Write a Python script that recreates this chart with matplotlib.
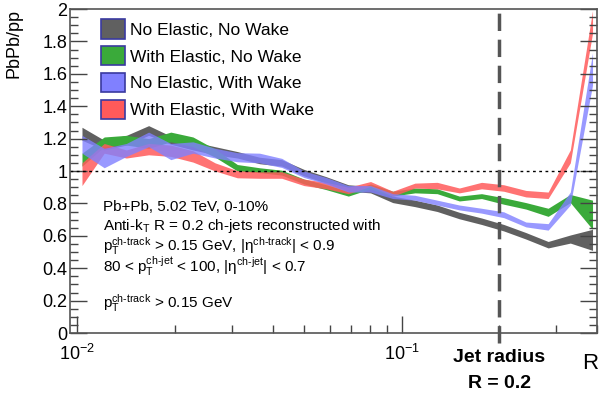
import numpy as np
import matplotlib.pyplot as plt
from matplotlib.patches import Patch

plt.rcParams['font.family'] = ['Liberation Sans', 'DejaVu Sans']
plt.rcParams['mathtext.fontset'] = 'custom'
plt.rcParams['mathtext.rm'] = 'Liberation Sans'
plt.rcParams['mathtext.it'] = 'Liberation Sans:italic'
plt.rcParams['mathtext.bf'] = 'Liberation Sans:bold'

# bin centres in R_L
x = [0.01035, 0.01212, 0.01418, 0.01661, 0.01944, 0.02275, 0.02663, 0.03117,
     0.03649, 0.04272, 0.0500, 0.05853, 0.06851, 0.0802, 0.09389, 0.1099,
     0.1287, 0.1506, 0.1763, 0.2064, 0.2415, 0.2828, 0.3310, 0.3875]

# No Elastic, No Wake
gray_c = [1.23, 1.16, 1.19, 1.25, 1.19, 1.155, 1.125, 1.10, 1.065, 1.05, 0.99, 0.945,
          0.895, 0.885, 0.825, 0.80, 0.77, 0.725, 0.69, 0.65, 0.60, 0.545, 0.58, 0.575]
gray_e = [0.04, 0.03, 0.03, 0.03, 0.025, 0.025, 0.025, 0.02, 0.02, 0.02, 0.02, 0.02,
          0.02, 0.02, 0.02, 0.02, 0.02, 0.02, 0.02, 0.02, 0.02, 0.02, 0.025, 0.065]
# With Elastic, No Wake
green_c = [1.07, 1.18, 1.19, 1.17, 1.21, 1.18, 1.11, 1.02, 1.005, 0.99, 0.935, 0.90,
           0.86, 0.905, 0.86, 0.88, 0.875, 0.83, 0.845, 0.815, 0.785, 0.745, 0.83, 0.73]
green_e = [0.04, 0.03, 0.03, 0.03, 0.03, 0.03, 0.025, 0.02, 0.015, 0.015, 0.015, 0.015,
           0.015, 0.015, 0.015, 0.015, 0.015, 0.015, 0.015, 0.02, 0.02, 0.025, 0.025, 0.09]
# No Elastic, With Wake
blue_c = [1.165, 1.08, 1.13, 1.195, 1.12, 1.145, 1.11, 1.085, 1.08, 1.05, 0.98, 0.94,
          0.89, 0.89, 0.845, 0.835, 0.805, 0.775, 0.755, 0.73, 0.67, 0.655, 0.83, 1.63]
blue_e = [0.055, 0.06, 0.04, 0.045, 0.05, 0.035, 0.03, 0.028, 0.03, 0.028, 0.02, 0.02,
          0.02, 0.02, 0.015, 0.015, 0.015, 0.015, 0.015, 0.018, 0.015, 0.02, 0.04, 0.1]
# With Elastic, With Wake
red_c = [0.98, 1.14, 1.105, 1.135, 1.125, 1.09, 1.025, 0.98, 0.975, 0.975, 0.93, 0.91,
         0.88, 0.92, 0.86, 0.91, 0.91, 0.88, 0.91, 0.895, 0.86, 0.85, 1.09, 1.92]
red_e = [0.07, 0.03, 0.025, 0.035, 0.035, 0.035, 0.025, 0.022, 0.02, 0.02, 0.02, 0.02,
         0.02, 0.015, 0.015, 0.015, 0.02, 0.015, 0.02, 0.02, 0.02, 0.02, 0.04, 0.07]

labels = ['No Elastic, No Wake', 'With Elastic, No Wake',
          'No Elastic, With Wake', 'With Elastic, With Wake']
colors = ['#606060', '#3aaa3a', '#8080ff', '#ff5a5a']

fig = plt.figure(figsize=(6, 4), dpi=100)
ax = fig.add_axes([0.117, 0.1675, 0.878, 0.81])

series = [(gray_c, gray_e, 1.0), (green_c, green_e, 1.0), (red_c, red_e, 0.85), (blue_c, blue_e, 0.8)]
cols = [colors[0], colors[1], colors[3], colors[2]]
for (c, e, a), col in zip(series, cols):
    c = np.array(c)
    e = np.array(e)
    ax.fill_between(x, c - e, c + e, color=col, alpha=a, lw=0)

ax.axhline(1, color='black', ls=(0, (2, 2.5)), lw=1)
ax.plot([0.2, 0.2], [-0.06, 2], color='#555555', lw=2.5, ls=(0, (5, 2.5)), clip_on=False)

ax.set_xscale('log')
ax.set_xlim(0.00952, 0.4)
ax.set_ylim(0, 2)
ax.set_yticks(np.arange(0, 2.01, 0.2))
ax.set_yticklabels(['0', '0.2', '0.4', '0.6', '0.8', '1', '1.2', '1.4', '1.6', '1.8', '2'])
ax.set_yticks(np.arange(0, 2.01, 0.05), minor=True)
ax.set_xticks([0.01, 0.1])
ax.set_xticklabels(['$10^{-2}$', '$10^{-1}$'])
ax.tick_params(which='both', direction='in', right=True, labelsize=13, colors='#444444',
               labelcolor='black')
ax.tick_params(which='major', length=12, width=1)
ax.tick_params(which='minor', length=6, width=1)
ax.tick_params(axis='x', which='major', pad=8)
ax.tick_params(axis='y', which='major', pad=2)
for s in ax.spines.values():
    s.set_color('#555555')
    s.set_linewidth(1.2)

ax.set_ylabel('PbPb/pp', fontsize=13, loc='top', labelpad=14)
ax.text(0.972, -0.095, '$\\mathrm{R_L}$', transform=ax.transAxes, fontsize=16,
        ha='left', va='center', clip_on=False)
fig.text(499 / 600, 1 - 358 / 400, 'Jet radius', fontsize=14, fontweight='bold',
         ha='center', va='center')
fig.text(499 / 600, 1 - 384 / 400, 'R = 0.2', fontsize=14, fontweight='bold',
         ha='center', va='center')

lines = ['Pb+Pb, 5.02 TeV, 0-10%',
         'Anti-k$_\\mathrm{T}$ R = 0.2 ch-jets reconstructed with',
         'p$_\\mathrm{T}^\\mathrm{ch\\text{-}track}$ > 0.15 GeV, |η$^\\mathrm{ch\\text{-}track}$| < 0.9',
         '80 < p$_\\mathrm{T}^\\mathrm{ch\\text{-}jet}$ < 100, |η$^\\mathrm{ch\\text{-}jet}$| < 0.7',
         'p$_\\mathrm{T}^\\mathrm{ch\\text{-}track}$ > 0.15 GeV']
ys = [207, 226, 246, 266, 303]
for t, yy in zip(lines, ys):
    fig.text(103 / 600, 1 - yy / 400, t, fontsize=11, ha='left', va='center')

handles = [Patch(facecolor=c, edgecolor='#3a3aa0', lw=1.2) for c in colors]
ax.legend(handles, labels, loc='upper left', bbox_to_anchor=(0.045, 0.99), frameon=False,
          fontsize=12.5, handlelength=1.4, handleheight=1.35, labelspacing=0.42,
          handletextpad=0.3, borderaxespad=0)

fig.savefig('out.png', dpi=100)
